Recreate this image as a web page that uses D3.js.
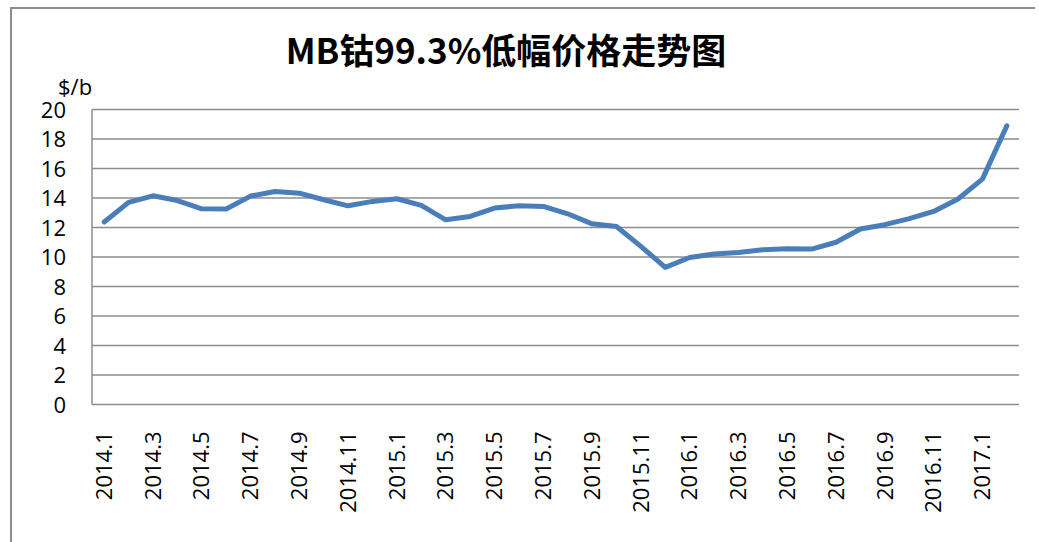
<!DOCTYPE html>
<html>
<head>
<meta charset="utf-8">
<script src="https://cdn.jsdelivr.net/npm/d3@7"></script>
<style>
  body { margin: 0; background: #fff; }
  svg text { font-family: "Open Sans", "Noto Sans CJK SC", sans-serif; fill: #000; }
</style>
</head>
<body>
<div id="chart"></div>
<script>
const months = [
  "2014.1", "2014.2", "2014.3", "2014.4", "2014.5", "2014.6", "2014.7", "2014.8", "2014.9", "2014.10", "2014.11", "2014.12",
  "2015.1", "2015.2", "2015.3", "2015.4", "2015.5", "2015.6", "2015.7", "2015.8", "2015.9", "2015.10", "2015.11", "2015.12",
  "2016.1", "2016.2", "2016.3", "2016.4", "2016.5", "2016.6", "2016.7", "2016.8", "2016.9", "2016.10", "2016.11", "2016.12",
  "2017.1", "2017.2"
];
const prices = [
  12.37, 13.7, 14.15, 13.83, 13.27, 13.25, 14.13, 14.44, 14.33, 13.88, 13.47, 13.77,
  13.95, 13.5, 12.52, 12.75, 13.32, 13.47, 13.43, 12.93, 12.25, 12.07, 10.72, 9.3,
  9.97, 10.2, 10.31, 10.49, 10.56, 10.54, 11.0, 11.9, 12.19, 12.6, 13.09, 13.93,
  15.28, 18.89
];
const yTicks = [0, 2, 4, 6, 8, 10, 12, 14, 16, 18, 20];

const W = 1039, H = 542;
const plot = { left: 92, right: 1019, top: 109.5, bottom: 404.5 };

const svg = d3.select("#chart").append("svg")
  .attr("width", W).attr("height", H);

// chart frame (only top and left edges show in the picture)
svg.append("path")
  .attr("d", "M11,542 V8 H1035")
  .attr("fill", "none").attr("stroke", "#8c8c8c").attr("stroke-width", 2);

const x = d3.scaleBand().domain(months).range([plot.left, plot.right]);
const y = d3.scaleLinear().domain([0, 20]).range([plot.bottom, plot.top]);

// gridlines
svg.append("g")
  .selectAll("line")
  .data(yTicks)
  .join("line")
  .attr("x1", plot.left).attr("x2", plot.right)
  .attr("y1", d => y(d)).attr("y2", d => y(d))
  .attr("stroke", "#8c8c8c").attr("stroke-width", 1.5);

// left axis line
svg.append("line")
  .attr("x1", plot.left).attr("x2", plot.left)
  .attr("y1", plot.top).attr("y2", plot.bottom)
  .attr("stroke", "#8c8c8c").attr("stroke-width", 1.5);

// y labels
const yAxis = svg.append("g")
  .attr("transform", `translate(${plot.left - 26},0)`)
  .call(d3.axisLeft(y).tickValues(yTicks).tickSize(0).tickPadding(0));
yAxis.select(".domain").remove();
yAxis.selectAll("text")
  .style("font-size", "22px")
  .attr("dy", "0.35em");

// x labels, every other month
const xAxis = svg.append("g")
  .attr("transform", `translate(0,${plot.bottom})`)
  .call(d3.axisBottom(x).tickValues(months.filter((d, i) => i % 2 === 0)).tickSize(0));
xAxis.select(".domain").remove();
xAxis.selectAll("text")
  .style("font-size", "22px")
  .attr("text-anchor", "end")
  .attr("transform", "rotate(-90)")
  .attr("x", -27)
  .attr("y", 0)
  .attr("dy", "0.35em");

// unit label
svg.append("text")
  .attr("x", 58).attr("y", 95)
  .style("font-size", "22px")
  .text("$/b");

// title
svg.append("text")
  .attr("x", 506).attr("y", 64)
  .attr("text-anchor", "middle")
  .style("font-family", "'Noto Sans CJK SC', sans-serif")
  .style("font-size", "35px")
  .style("font-weight", "bold")
  .text("MB钴99.3%低幅价格走势图");

// price line
const line = d3.line()
  .x((d, i) => x(months[i]) + x.bandwidth() / 2)
  .y(d => y(d));

svg.append("path")
  .datum(prices)
  .attr("d", line)
  .attr("fill", "none")
  .attr("stroke", "#4a7ebb")
  .attr("stroke-width", 5)
  .attr("stroke-linejoin", "round")
  .attr("stroke-linecap", "round");
</script>
</body>
</html>
